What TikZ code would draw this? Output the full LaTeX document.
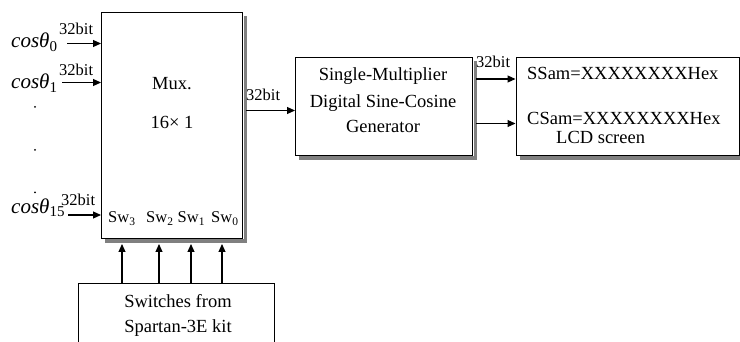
\documentclass[tikz,border=0pt]{standalone}
\usepackage{fontspec}
\setmainfont{Liberation Serif}
\usetikzlibrary{arrows.meta}
\begin{document}
\begin{tikzpicture}[x=1pt,y=-1pt,
  box/.style={draw,line width=1pt,fill=white,inner sep=0pt},
  shd/.style={fill=black!50,draw=none},
  arr/.style={-{Triangle[length=8pt,width=7pt]},line width=1.1pt},
  lbl/.style={font=\fontsize{16.5}{16.5}\selectfont,inner sep=0pt,anchor=base west},
  txt/.style={font=\fontsize{18.5}{18.5}\selectfont,inner sep=0pt,anchor=base},
  txtw/.style={font=\fontsize{18.5}{18.5}\selectfont,inner sep=0pt,anchor=base west},
  cosl/.style={font=\fontsize{21}{21}\selectfont,inner sep=0pt,anchor=base west},
  swl/.style={font=\fontsize{16.5}{16.5}\selectfont,inner sep=0pt,anchor=base west},
  dotm/.style={circle,fill=black,inner sep=0pt,minimum size=2pt}]
\useasboundingbox (0,0) rectangle (740,342);
% boxes
\node[box,anchor=north west,minimum width=141pt,minimum height=226pt] (mux) at (101,12) {};
\node[box,anchor=north west,minimum width=177pt,minimum height=98pt] (smg) at (295,57) {};
\node[box,anchor=north west,minimum width=223pt,minimum height=98pt] (lcd) at (515.5,57) {};
\node[box,anchor=north west,minimum width=196pt,minimum height=62pt] (swbox) at (78,283) {};
% shadows (right and bottom strips)
\foreach \b in {mux,smg,lcd}{
  \fill[shd] ([shift={(0.5,4)}]\b.north east) rectangle ([shift={(4,4)}]\b.south east);
  \fill[shd] ([shift={(4,0.5)}]\b.south west) rectangle ([shift={(4,4)}]\b.south east);
}
% mux texts
\node[txt] (muxa) at (172,90) {Mux.};
\node[txt] (muxb) at (172,129) {16\texttimes\ 1};
\node[swl] (sw3) at (108,223) {Sw\raisebox{-3pt}{\fontsize{11.5}{11.5}\selectfont 3}};
\node[swl] (sw2) at (146,223) {Sw\raisebox{-3pt}{\fontsize{11.5}{11.5}\selectfont 2}};
\node[swl] (sw1) at (177.5,223) {Sw\raisebox{-3pt}{\fontsize{11.5}{11.5}\selectfont 1}};
\node[swl] (sw0) at (211,223) {Sw\raisebox{-3pt}{\fontsize{11.5}{11.5}\selectfont 0}};
% inputs
\node[cosl] (c0) at (11,48) {\textit{cosθ}\raisebox{-3.5pt}{\fontsize{15}{15}\selectfont 0}};
\node[cosl] (c1) at (11,89) {\textit{cosθ}\raisebox{-3.5pt}{\fontsize{15}{15}\selectfont 1}};
\node[cosl] (c15) at (11,213.5) {\textit{cosθ}\raisebox{-3.5pt}{\fontsize{15}{15}\selectfont 15}};
\node[lbl] (b0) at (59,35) {32bit};
\node[lbl] (b1) at (59,76) {32bit};
\node[lbl] (b15) at (61,206) {32bit};
\coordinate (i0) at (67,43.5);
\coordinate (i1) at (62,82.5);
\coordinate (i15) at (68,215);
\draw[arr] (i0) -- (i0 -| mux.west);
\draw[arr] (i1) -- (i1 -| mux.west);
\draw[arr] (i15) -- (i15 -| mux.west);
\node[dotm] (d1) at (35,107) {};
\node[dotm] (d2) at (35,150) {};
\node[dotm] (d3) at (35,192.5) {};
% mux to smg
\coordinate (mo) at (246,110.5);
\draw[arr] (mo) -- (mo -| smg.west);
\node[lbl] (bm) at (246,101) {32bit};
\node[txt] (s1) at (383,80.5) {Single-Multiplier};
\node[txt] (s2) at (383,107.5) {Digital Sine-Cosine};
\node[txt] (s3) at (383,133) {Generator};
% smg to lcd
\coordinate (o1) at (476,79);
\coordinate (o2) at (476,123.5);
\draw[arr] (o1) -- (o1 -| lcd.west);
\draw[arr] (o2) -- (o2 -| lcd.west);
\node[lbl] (bo) at (476,68) {32bit};
\node[txtw] (l1) at (527,80) {SSam=XXXXXXXXHex};
\node[txtw] (l2) at (527,125) {CSam=XXXXXXXXHex};
\node[txtw] (l3) at (556,143.5) {LCD screen};
% switches
\node[txt] (w1) at (178,307) {Switches from};
\node[txt] (w2) at (178,332) {Spartan-3E kit};
\foreach \x/\n in {122/a,159/b,191/c,222/d}{
  \coordinate (u\n) at (\x,283);
  \draw[arr,shorten >=5pt] (u\n) -- (u\n |- mux.south);
}
\end{tikzpicture}
\end{document}
